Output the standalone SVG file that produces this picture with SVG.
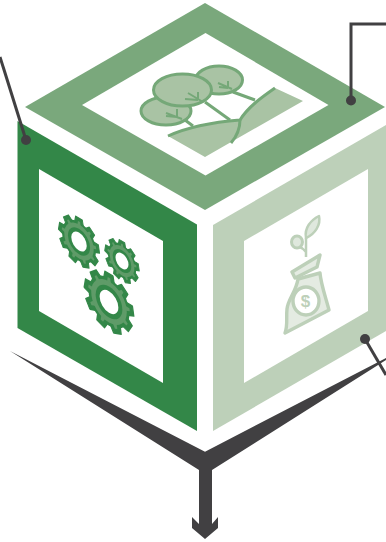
<svg xmlns="http://www.w3.org/2000/svg" width="386" height="542" viewBox="0 0 386 542">
<defs>
<style>
.ln{fill:none;stroke:#414042;stroke-width:3}
.dot{fill:#414042}
.t1{fill:#a9c3a4;stroke:#75a878;stroke-width:3}
.tw{fill:none;stroke:#75a878;stroke-width:3}
.tn{fill:none;stroke:#75a878;stroke-width:2}
.b{fill:#e4ebe2;stroke:#bdd0b9;stroke-width:3.4;stroke-linejoin:round}
</style>
<g id="tooth"><path d="M-6-20L-4.500-27.500H4.500L6-20Z" fill="#338748" stroke="#338748" stroke-width="1.500" stroke-linejoin="round"/><path d="M-2.200-19L-1.400-23.500H1.400L2.200-19Z" fill="#5f9b68"/></g>
<g id="gear">
<circle r="23" fill="#338748"/>
<use href="#tooth"/><use href="#tooth" transform="rotate(40)"/><use href="#tooth" transform="rotate(80)"/><use href="#tooth" transform="rotate(120)"/><use href="#tooth" transform="rotate(160)"/><use href="#tooth" transform="rotate(200)"/><use href="#tooth" transform="rotate(240)"/><use href="#tooth" transform="rotate(280)"/><use href="#tooth" transform="rotate(320)"/>
<circle r="20" fill="#5f9b68"/>
<circle r="15" fill="#338748"/>
<circle r="10.500" fill="#fff"/>
</g>
</defs>
<rect width="386" height="542" fill="#fff"/>
<g id="top-face">
<path d="M205 3L385 107L205 210L25 107Z" fill="#7aa87c"/>
<path d="M205.500 33L328.500 105L205.500 175.500L82 105Z" fill="#fff"/>
<path d="M168 136L205 157L303 101L275 88C262 97 248 107 240 120C215 122 190 126 168 136Z" fill="#a9c3a4"/>
<path d="M168 136C190 126 215 122 240 120C248 107 262 97 275 88" class="tw"/>
<path d="M240 120C240 129 237 136 231 143" class="tw"/>
<path d="M185 120L193 126M205 102L230 120M233 92L255 100" class="tw"/>
<ellipse class="t1" cx="166" cy="111" rx="25" ry="14"/>
<ellipse class="t1" cx="219" cy="80" rx="23.500" ry="14"/>
<ellipse class="t1" cx="182.500" cy="90" rx="29" ry="16"/>
<path d="M166 113L182 119M177 109V117M166 116L177 117M188 93L203 102M198 92V100M185 99L198 100M218 83L232 89M228 81V88M219 87L228 88" class="tn"/>
</g>
<g id="left-face">
<path d="M17.500 121L197 224.500V431L17.500 328Z" fill="#338748"/>
<path d="M39 169L163 241V383L39 311Z" fill="#fff"/>
<use href="#gear" transform="matrix(.736 .425 0 .85 79 241.500)"/>
<use href="#gear" transform="matrix(.62 .36 0 .72 122 261)"/>
<use href="#gear" transform="matrix(.89 .515 0 1.030 109 302)"/>
</g>
<g id="right-face">
<path d="M213 225L386 125V331L213 431Z" fill="#bdd0b9"/>
<path d="M244 241L368 169V311L244 383Z" fill="#fff"/>
<path class="b" d="M292 272L320 255L317 267L295 278Z"/>
<path class="b" d="M298 279L320 273C321 285 326 298 329 310L285 333C288 325 286 318 287 309C288 299 296 292 298 279Z"/>
<ellipse cx="306" cy="301" rx="13" ry="14" fill="#fff" stroke="#bdd0b9" stroke-width="3.400"/>
<text x="305.500" y="307" font-family="'Liberation Sans',sans-serif" font-size="17" fill="#bdd0b9" text-anchor="middle" font-weight="700">$</text>
<path d="M306 257V238M298 246Q303 248 306 252" fill="none" stroke="#bdd0b9" stroke-width="2.500"/>
<ellipse cx="297" cy="242" rx="5.500" ry="6" fill="#dfe8dd" stroke="#bdd0b9" stroke-width="3"/>
<path d="M306 238C304 228 311 220 319 216C321 225 315 234 306 238Z" fill="#dfe8dd" stroke="#bdd0b9" stroke-width="2.500" stroke-linejoin="round"/>
</g>
<g id="connectors">
<path class="ln" d="M0 57L26 140"/>
<circle class="dot" cx="26" cy="140" r="5"/>
<path class="ln" d="M351 100.500V24H386"/>
<circle class="dot" cx="351" cy="100.500" r="5"/>
<path class="ln" d="M365 339L386 375"/>
<circle class="dot" cx="365" cy="339" r="5"/>
<path class="dot" d="M10 351L205 451.700L386 358V360L212 470V524L218 517V528L205 539L192 528V517L199 524V470Z"/>
</g>
</svg>
